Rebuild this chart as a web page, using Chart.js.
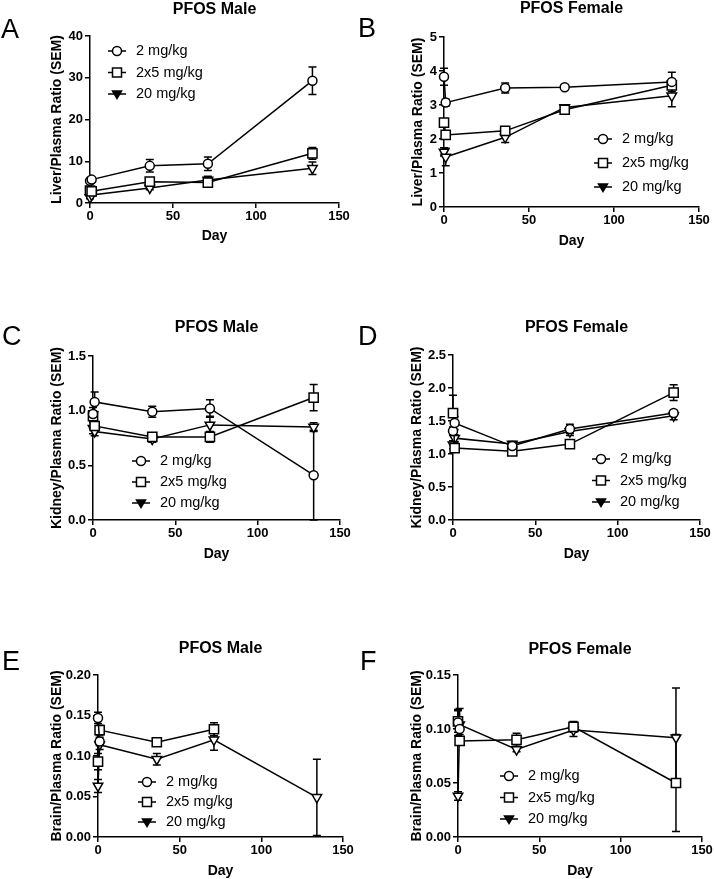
<!DOCTYPE html>
<html>
<head>
<meta charset="utf-8">
<script src="https://cdn.jsdelivr.net/npm/chart.js@4.4.0/dist/chart.umd.min.js"></script>
<style>
body { margin: 0; background: #fff; }
#figura { position: relative; width: 714px; height: 879px; }
canvas { position: absolute; }
</style>
</head>
<body>
<div id="figura">
  <canvas id="cA" width="357" height="290" style="left:0px;top:0px"></canvas>
  <canvas id="cB" width="357" height="290" style="left:357px;top:0px"></canvas>
  <canvas id="cC" width="357" height="290" style="left:0px;top:290px"></canvas>
  <canvas id="cD" width="357" height="290" style="left:357px;top:290px"></canvas>
  <canvas id="cE" width="357" height="299" style="left:0px;top:580px"></canvas>
  <canvas id="cF" width="357" height="299" style="left:357px;top:580px"></canvas>
</div>
<script>
// Dias de muestreo y grupos de dosis
const dias = [0, 1, 36, 71, 134];
const grupos = ["2 mg/kg", "2x5 mg/kg", "20 mg/kg"];
const diasTicks = [0, 50, 100, 150];

// A - higado macho
const higadoM_2 = [5.3, 5.6, 8.9, 9.4, 29.3];
const higadoM_2x5 = [3.0, 2.8, 5.1, 4.9, 11.9];
const higadoM_20 = [1.3, 1.9, 3.6, 5.5, 8.3];
const higadoM_sem2 = [0.4, 0.5, 1.5, 1.6, 3.3];
const higadoM_sem2x5 = [0.3, 0.4, 0.5, 0.9, 1.4];
const higadoM_sem20 = [0.3, 0.3, 0.4, 0.9, 1.5];
const higadoM_ticks = [0, 10, 20, 30, 40];
const higadoM_labels = ["0", "10", "20", "30", "40"];

// B - higado hembra
const higadoH_2 = [3.83, 3.07, 3.5, 3.52, 3.68];
const higadoH_2x5 = [2.48, 2.12, 2.24, 2.86, 3.58];
const higadoH_20 = [1.62, 1.47, 2.05, 2.93, 3.27];
const higadoH_sem2 = [0.25, 0.1, 0.15, 0.06, 0.28];
const higadoH_sem2x5 = [0.08, 0.06, 0.08, 0.08, 0.1];
const higadoH_sem20 = [0.12, 0.26, 0.15, 0.08, 0.32];
const higadoH_ticks = [0, 1, 2, 3, 4, 5];
const higadoH_labels = ["0", "1", "2", "3", "4", "5"];

// C - rinon macho
const rinonM_2 = [0.97, 1.08, 0.99, 1.02, 0.41];
const rinonM_2x5 = [0.95, 0.86, 0.76, 0.76, 1.12];
const rinonM_20 = [0.84, 0.81, 0.74, 0.87, 0.85];
const rinonM_sem2 = [0.06, 0.09, 0.05, 0.08, 0.41];
const rinonM_sem2x5 = [0.05, 0.04, 0.03, 0.05, 0.12];
const rinonM_sem20 = [0.05, 0.04, 0.03, 0.08, 0.04];
const rinonM_ticks = [0, 0.5, 1.0, 1.5];
const rinonM_labels = ["0.0", "0.5", "1.0", "1.5"];

// D - rinon hembra
const rinonH_2 = [1.35, 1.47, 1.12, 1.38, 1.62];
const rinonH_2x5 = [1.62, 1.09, 1.04, 1.15, 1.93];
const rinonH_20 = [1.14, 1.24, 1.15, 1.34, 1.58];
const rinonH_sem2 = [0.06, 0.1, 0.03, 0.07, 0.03];
const rinonH_sem2x5 = [0.27, 0.04, 0.03, 0.03, 0.12];
const rinonH_sem20 = [0.06, 0.05, 0.04, 0.06, 0.06];
const rinonH_ticks = [0, 0.5, 1.0, 1.5, 2.0, 2.5];
const rinonH_labels = ["0.0", "0.5", "1.0", "1.5", "2.0", "2.5"];

// E - cerebro macho
const cerebroM_2 = [0.147, 0.118, null, null, null];
const cerebroM_2x5 = [0.093, 0.132, 0.117, 0.133, null];
const cerebroM_20 = [0.063, 0.114, 0.096, 0.120, 0.049];
const cerebroM_sem2 = [0.007, 0.005, 0, 0, 0];
const cerebroM_sem2x5 = [0.01, 0.006, 0.003, 0.008, 0];
const cerebroM_sem20 = [0.008, 0.006, 0.007, 0.013, 0.047];
const cerebroM_ticks = [0, 0.05, 0.10, 0.15, 0.20];
const cerebroM_labels = ["0.00", "0.05", "0.10", "0.15", "0.20"];

// F - cerebro hembra
const cerebroH_2 = [0.106, 0.100, null, null, null];
const cerebroH_2x5 = [0.107, 0.089, 0.090, 0.102, 0.050];
const cerebroH_20 = [0.038, 0.104, 0.081, 0.099, 0.092];
const cerebroH_sem2 = [0.012, 0.005, 0, 0, 0];
const cerebroH_sem2x5 = [0.01, 0.003, 0.006, 0.005, 0.045];
const cerebroH_sem20 = [0.004, 0.015, 0.002, 0.006, 0.046];
const cerebroH_ticks = [0, 0.05, 0.10, 0.15];
const cerebroH_labels = ["0.00", "0.05", "0.10", "0.15"];

const fuente = '"Liberation Sans", Arial, Helvetica, sans-serif';
Chart.defaults.font.family = fuente;
Chart.defaults.color = "#000";

// tamanos de letra
const tamTitulo = 16;
const tamEje = 14;
const tamTicks = 13;
const tamLeyenda = 14.5;

// marcadores: circulo, cuadrado, triangulo invertido
const estilos = [
    { pointStyle: "circle", pointRadius: 4.5, pointRotation: 0 },
    { pointStyle: "rect", pointRadius: 6.5, pointRotation: 0 },
    { pointStyle: "triangle", pointRadius: 5.5, pointRotation: 180 }
];

// Barras de error (SEM) dibujadas con las escalas del grafico
const barrasError = {
    id: "barrasError",
    beforeDatasetsDraw(chart) {
        const ctx = chart.ctx;
        const sx = chart.scales.x, sy = chart.scales.y;
        ctx.save();
        ctx.strokeStyle = "#000";
        ctx.lineWidth = 1.5;
        chart.data.datasets.forEach(function (ds) {
            ds.data.forEach(function (p, i) {
                const e = ds.sem[i];
                if (p.y == null || !e) return;
                const px = sx.getPixelForValue(p.x);
                const yArriba = sy.getPixelForValue(p.y + e);
                const yAbajo = sy.getPixelForValue(Math.max(p.y - e, 0));
                ctx.beginPath();
                ctx.moveTo(px, yAbajo); ctx.lineTo(px, yArriba);
                ctx.moveTo(px - 4, yAbajo); ctx.lineTo(px + 4, yAbajo);
                ctx.moveTo(px - 4, yArriba); ctx.lineTo(px + 4, yArriba);
                ctx.stroke();
            });
        });
        ctx.restore();
    }
};

function marcador(ctx, tipo, x, y) {
    ctx.beginPath();
    if (tipo == 0) {
        ctx.arc(x, y, 4.5, 0, Math.PI * 2);
    } else if (tipo == 1) {
        ctx.rect(x - 4.5, y - 4.5, 9, 9);
    } else {
        ctx.moveTo(x - 4.5, y - 3);
        ctx.lineTo(x + 4.5, y - 3);
        ctx.lineTo(x, y + 4.5);
        ctx.closePath();
    }
    ctx.fillStyle = tipo == 2 ? "#000" : "#fff";
    ctx.fill();
    ctx.stroke();
}

// Leyenda y letra del panel
const extras = {
    id: "extras",
    afterDraw(chart, args, opts) {
        const ctx = chart.ctx;
        ctx.save();
        ctx.fillStyle = "#000";
        ctx.font = "27px " + fuente;
        ctx.textBaseline = "alphabetic";
        ctx.fillText(opts.letra, opts.lx, opts.ly);
        ctx.font = tamLeyenda + "px " + fuente;
        ctx.textBaseline = "middle";
        ctx.strokeStyle = "#000";
        ctx.lineWidth = 1.5;
        chart.data.datasets.forEach(function (ds, i) {
            const y = opts.y + i * opts.dy;
            ctx.beginPath();
            ctx.moveTo(opts.x, y);
            ctx.lineTo(opts.x + 18, y);
            ctx.stroke();
            marcador(ctx, i, opts.x + 9, y);
            ctx.fillStyle = "#000";
            ctx.fillText(ds.label, opts.x + 28, y);
        });
        ctx.restore();
    }
};

function grafico(id, letra, titulo, yTitulo, series, sems, yTicks, yLabels, caja, ley) {
    const canvas = document.getElementById(id);
    const alto = canvas.height, ancho = canvas.width;
    const medioEje = tamEje * 1.2 / 2;
    const medioTitulo = tamTitulo * 1.2 / 2;
    const padIzq = caja.yTx - medioEje;
    const baseX = caja.xTy + medioEje;

    const datasets = series.map(function (vals, k) {
        return Object.assign({
            label: grupos[k],
            data: dias.map(function (d, i) { return { x: d, y: vals[i] }; }),
            sem: sems[k],
            borderColor: "#000",
            borderWidth: 1.5,
            pointBackgroundColor: "#fff",
            pointBorderColor: "#000",
            pointBorderWidth: 1.5,
            tension: 0,
            spanGaps: false,
            clip: false
        }, estilos[k]);
    });

    new Chart(canvas, {
        type: "line",
        data: { datasets: datasets },
        plugins: [barrasError, extras],
        options: {
            responsive: false,
            animation: false,
            devicePixelRatio: 1,
            layout: {
                padding: { left: padIzq, right: ancho - caja.R, top: 0, bottom: alto - baseX }
            },
            plugins: {
                legend: { display: false },
                tooltip: { enabled: false },
                title: {
                    display: true,
                    text: titulo,
                    fullSize: false,
                    font: { size: tamTitulo, weight: "bold" },
                    padding: { top: caja.tY - medioTitulo, bottom: caja.T - caja.tY - medioTitulo }
                },
                extras: Object.assign({ letra: letra }, ley)
            },
            scales: {
                x: {
                    type: "linear",
                    min: 0,
                    max: 150,
                    afterBuildTicks: function (s) { s.ticks = diasTicks.map(function (v) { return { value: v }; }); },
                    afterFit: function (s) {
                        s.height = baseX - caja.B;
                        s.paddingLeft = 0; s.paddingRight = 0;
                    },
                    grid: { drawOnChartArea: false, drawTicks: true, tickLength: 5, color: "#000", lineWidth: 1.5 },
                    border: { display: true, color: "#000", width: 1.5 },
                    ticks: { padding: 1, font: { size: tamTicks, weight: "bold" }, maxRotation: 0 },
                    title: { display: true, text: "Day", padding: 0, font: { size: tamEje, weight: "bold" } }
                },
                y: {
                    type: "linear",
                    min: yTicks[0],
                    max: yTicks[yTicks.length - 1],
                    afterBuildTicks: function (s) { s.ticks = yTicks.map(function (v) { return { value: v }; }); },
                    afterFit: function (s) {
                        s.width = caja.L - padIzq;
                        s.paddingTop = 0; s.paddingBottom = 0;
                    },
                    grid: { drawOnChartArea: false, drawTicks: true, tickLength: 5, color: "#000", lineWidth: 1.5 },
                    border: { display: true, color: "#000", width: 1.5 },
                    ticks: {
                        padding: 2,
                        font: { size: tamTicks, weight: "bold" },
                        callback: function (v, i) { return yLabels[i]; }
                    },
                    title: { display: true, text: yTitulo, padding: 0, font: { size: tamEje, weight: "bold" } }
                }
            }
        }
    });
}

grafico("cA", "A", "PFOS Male", "Liver/Plasma Ratio (SEM)",
    [higadoM_2, higadoM_2x5, higadoM_20], [higadoM_sem2, higadoM_sem2x5, higadoM_sem20],
    higadoM_ticks, higadoM_labels,
    { L: 90, R: 339, T: 36, B: 203, yTx: 57, xTy: 236, tY: 10 },
    { lx: 1, ly: 38, x: 108, y: 51, dy: 21.5 });

grafico("cB", "B", "PFOS Female", "Liver/Plasma Ratio (SEM)",
    [higadoH_2, higadoH_2x5, higadoH_20], [higadoH_sem2, higadoH_sem2x5, higadoH_sem20],
    higadoH_ticks, higadoH_labels,
    { L: 87, R: 342, T: 37, B: 207, yTx: 61, xTy: 241, tY: 9 },
    { lx: 1, ly: 37, x: 237, y: 139, dy: 24 });

grafico("cC", "C", "PFOS Male", "Kidney/Plasma Ratio (SEM)",
    [rinonM_2, rinonM_2x5, rinonM_20], [rinonM_sem2, rinonM_sem2x5, rinonM_sem20],
    rinonM_ticks, rinonM_labels,
    { L: 93, R: 340, T: 66, B: 230, yTx: 57, xTy: 264, tY: 38 },
    { lx: 2, ly: 55, x: 132, y: 171, dy: 21 });

grafico("cD", "D", "PFOS Female", "Kidney/Plasma Ratio (SEM)",
    [rinonH_2, rinonH_2x5, rinonH_20], [rinonH_sem2, rinonH_sem2x5, rinonH_sem20],
    rinonH_ticks, rinonH_labels,
    { L: 96, R: 343, T: 65, B: 230, yTx: 60, xTy: 264, tY: 38 },
    { lx: 1, ly: 55, x: 235, y: 169, dy: 21.5 });

grafico("cE", "E", "PFOS Male", "Brain/Plasma Ratio (SEM)",
    [cerebroM_2, cerebroM_2x5, cerebroM_20], [cerebroM_sem2, cerebroM_sem2x5, cerebroM_sem20],
    cerebroM_ticks, cerebroM_labels,
    { L: 98, R: 343, T: 95, B: 257, yTx: 57, xTy: 291, tY: 69 },
    { lx: 2, ly: 90, x: 138, y: 202, dy: 20 });

grafico("cF", "F", "PFOS Female", "Brain/Plasma Ratio (SEM)",
    [cerebroH_2, cerebroH_2x5, cerebroH_20], [cerebroH_sem2, cerebroH_sem2x5, cerebroH_sem20],
    cerebroH_ticks, cerebroH_labels,
    { L: 101, R: 345, T: 95, B: 257, yTx: 60, xTy: 291, tY: 70 },
    { lx: 3, ly: 90, x: 143, y: 196, dy: 21.5 });
</script>
</body>
</html>
